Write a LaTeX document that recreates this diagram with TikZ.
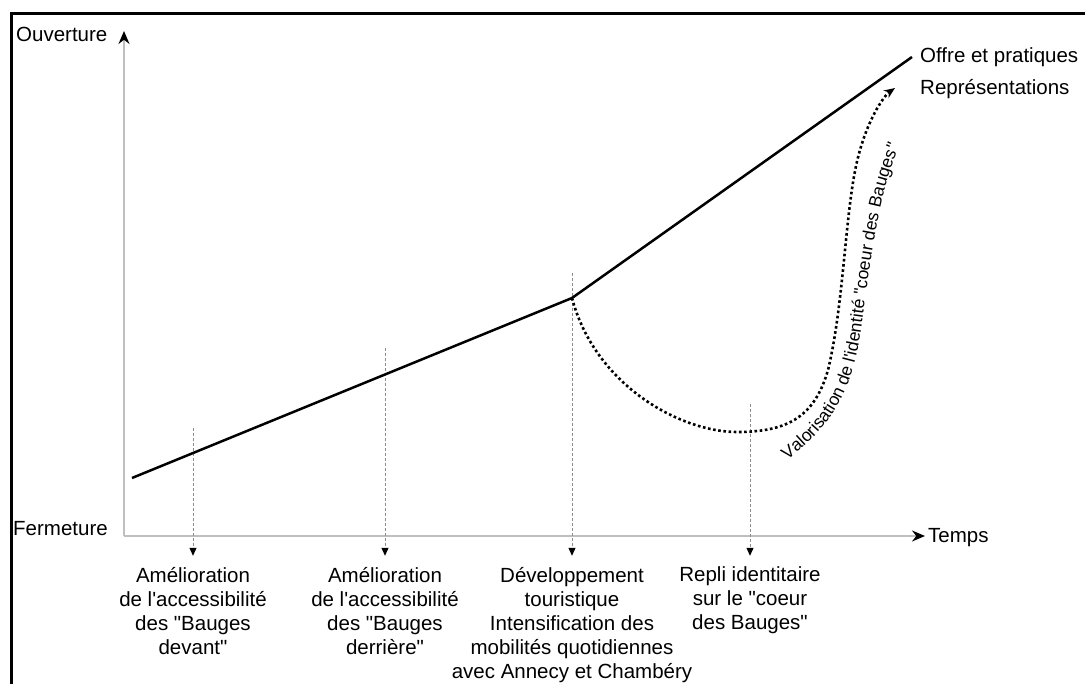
\documentclass[tikz,border=0pt]{standalone}
\usepackage{fontspec}
\setmainfont{Liberation Sans}[Ligatures=TeXOff]
\usetikzlibrary{arrows.meta,decorations.text}

\newcommand\lblfont{\fontsize{20.5}{24}\selectfont}
\newcommand\valfont{\fontsize{17.5}{20}\selectfont}

\begin{document}
\begin{tikzpicture}[x=1pt, y=-1pt,
    axis/.style={draw=black!25, line width=1.5pt},
    guide/.style={draw=black!45, line width=1pt, dash pattern=on 3pt off 2pt,
        -{Triangle[black,length=8pt,width=7pt]}, shorten >=11pt},
    evt/.style={anchor=north, align=center, inner sep=0pt, font=\lblfont},
    lbl/.style={anchor=base west, inner sep=0pt, font=\lblfont},
    trend/.style={line width=2.5pt, line join=round},
    retour/.style={line width=2.6pt, dash pattern=on 2.6pt off 2.6pt,
        -{Stealth[length=11pt,width=9pt]}}]
                \useasboundingbox (0,0) rectangle (1085,684);
                \draw[line width=3pt] (11,684) -- (11,14) -- (1085,14);

                % axes
                \coordinate (O) at (124,536);
                \coordinate (ytip) at (124,31);
                \coordinate (xtip) at (925,536);
                \draw[axis, -{Stealth[black,length=13pt,width=11pt]}] (O) -- (ytip);
                \draw[axis, -{Stealth[black,length=13pt,width=11pt]}] (O) -- (xtip);
                \node[lbl] (ouv) at (16,42) {Ouverture};
                \node[lbl] (ferm) at (13,535) {Fermeture};
                \node[lbl] (temps) at (928,543) {Temps};

                % events on the time axis
                \node[evt] (ev1) at (193,566.8) {Amélioration\\de l'accessibilité\\des "Bauges\\devant"};
                \node[evt] (ev2) at (385,566.8) {Amélioration\\de l'accessibilité\\des "Bauges\\derrière"};
                \node[evt] (ev3) at (572,566.8) {Développement\\touristique\\Intensification des\\mobilités quotidiennes\\avec Annecy et Chambéry};
                \node[evt] (ev4) at (750,566.8) {Repli identitaire\\sur le "coeur\\des Bauges"};
                \foreach \n/\x/\y in {1/193/428, 2/385/348, 3/572/273, 4/750/404} {
                    \coordinate (g\n) at (\x,\y);
                    \draw[guide] (g\n) -- (ev\n);
                }

                % trend
                \coordinate (p0) at (132,478);
                \coordinate (p1) at (572,298);
                \coordinate (p2) at (912,57);
                \draw[trend] (p0) -- (p1) -- (p2);
                \node[lbl] (offre) at (920,63) {Offre et pratiques};
                \node[lbl] (repr) at (920,95) {Représentations};

                % withdrawal and revaluation
                \coordinate (ctip) at (895,88);
                \draw[retour] (p1) .. controls (595,385) and (680,432) .. (737,432)
                    .. controls (790,432) and (815,415) .. (828,370)
                    .. controls (845,300) and (845,200) .. (860,150)
                    .. controls (870,115) and (885,95) .. (ctip);
                \path[decorate, decoration={text along path,
                    text={|\valfont|Valorisation de l'identité "coeur des Bauges"}}]
                    (787,460) .. controls (830,428) and (852,393) .. (861,330)
                    .. controls (869,272) and (878,192) .. (900,145);
            \end{tikzpicture}
\end{document}
